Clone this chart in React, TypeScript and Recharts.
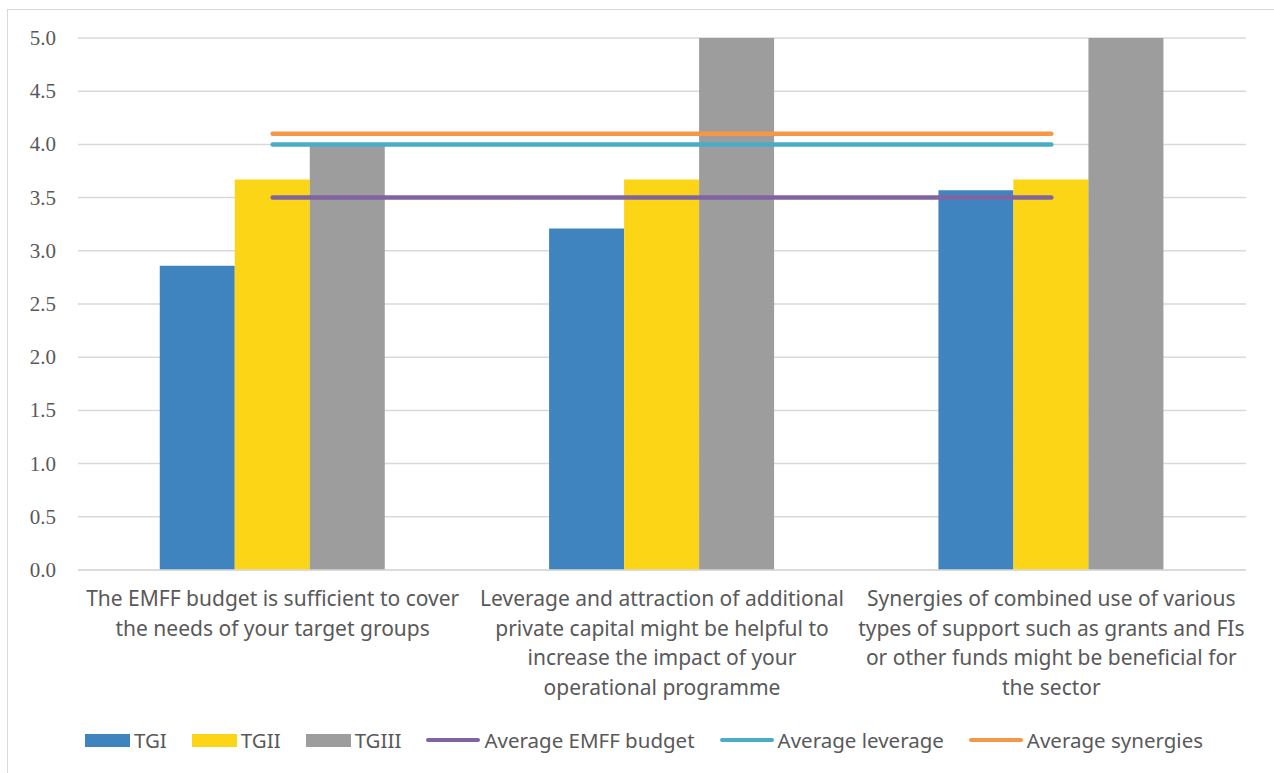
import React from 'react';
import {
  ComposedChart,
  Bar,
  Line,
  XAxis,
  YAxis,
  CartesianGrid,
  Legend,
} from 'recharts';

const categories = [
  'The EMFF budget is sufficient to cover the needs of your target groups',
  'Leverage and attraction of additional private capital might be helpful to increase the impact of your operational programme',
  'Synergies of combined use of various types of support such as grants and FIs or other funds might be beneficial for the sector',
];

// how the category labels wrap in the original
const categoryLines = [
  ['The EMFF budget is sufficient to cover', 'the needs of your target groups'],
  [
    'Leverage and attraction of additional',
    'private capital might be helpful to',
    'increase the impact of your',
    'operational programme',
  ],
  [
    'Synergies of combined use of various',
    'types of support such as grants and FIs',
    'or other funds might be beneficial for',
    'the sector',
  ],
];

const tgi = [2.86, 3.21, 3.57];
const tgii = [3.67, 3.67, 3.67];
const tgiii = [4.0, 5.0, 5.0];
const avgBudget = [3.5, 3.5, 3.5];
const avgLeverage = [4.0, 4.0, 4.0];
const avgSynergies = [4.1, 4.1, 4.1];

const yTicks = [0, 0.5, 1, 1.5, 2, 2.5, 3, 3.5, 4, 4.5, 5];

const data = categories.map((name, i) => ({
  name,
  TGI: tgi[i],
  TGII: tgii[i],
  TGIII: tgiii[i],
  'Average EMFF budget': avgBudget[i],
  'Average leverage': avgLeverage[i],
  'Average synergies': avgSynergies[i],
}));

const TEXT = '#595959';
const GRID = '#d9d9d9';
const SANS = '"Noto Sans", "Open Sans", sans-serif';
const SERIF = '"Liberation Serif", "DejaVu Serif", serif';

const legendItems = [
  { name: 'TGI', color: '#3f83bf', kind: 'bar' },
  { name: 'TGII', color: '#fdd517', kind: 'bar' },
  { name: 'TGIII', color: '#9d9d9e', kind: 'bar' },
  { name: 'Average EMFF budget', color: '#8064a2', kind: 'line' },
  { name: 'Average leverage', color: '#4bacc6', kind: 'line' },
  { name: 'Average synergies', color: '#f79646', kind: 'line' },
];

const CategoryTick = (props: any) => {
  const { x, y, payload } = props;
  const lines = categoryLines[payload.index] || [payload.value];
  return (
    <text
      x={x}
      y={y}
      textAnchor="middle"
      fill={TEXT}
      style={{ fontFamily: SANS, fontSize: 21 }}
    >
      {lines.map((line, i) => (
        <tspan key={i} x={x} dy={i === 0 ? 28 : 29.5}>
          {line}
        </tspan>
      ))}
    </text>
  );
};

const ValueTick = (props: any) => {
  const { x, y, payload } = props;
  return (
    <text
      x={x}
      y={y}
      dy={7}
      textAnchor="end"
      fill={TEXT}
      style={{ fontFamily: SERIF, fontSize: 21 }}
    >
      {Number(payload.value).toFixed(1)}
    </text>
  );
};

const ChartLegend = () => (
  <div
    style={{
      display: 'flex',
      justifyContent: 'center',
      alignItems: 'center',
      height: 40,
      fontFamily: SANS,
      fontSize: 20.5,
      color: TEXT,
      paddingLeft: 14,
    }}
  >
    {legendItems.map((item, i) => (
      <div
        key={item.name}
        style={{
          display: 'flex',
          alignItems: 'center',
          marginRight: i === legendItems.length - 1 ? 0 : 25,
        }}
      >
        {item.kind === 'bar' ? (
          <div style={{ width: 45, height: 13, background: item.color }} />
        ) : (
          <div
            style={{
              width: 54,
              height: 4,
              borderRadius: 2,
              background: item.color,
            }}
          />
        )}
        <span style={{ marginLeft: 4 }}>{item.name}</span>
      </div>
    ))}
  </div>
);

export default function App() {
  return (
    <div
      style={{
        position: 'absolute',
        left: 0,
        top: 0,
        width: 1274,
        height: 773,
        overflow: 'hidden',
        background: '#fff',
      }}
    >
      <div
        style={{
          position: 'absolute',
          left: 7,
          top: 9,
          width: 1300,
          height: 800,
          border: `1px solid ${GRID}`,
        }}
      />
      <div style={{ position: 'absolute', left: 0, top: 0 }}>
        <ComposedChart
          width={1274}
          height={773}
          data={data}
          margin={{ top: 38, right: 28, bottom: 13, left: 28 }}
          barCategoryGap="21%"
          barGap={0}
        >
          <CartesianGrid vertical={false} stroke={GRID} strokeWidth={1.5} />
          <XAxis
            dataKey="name"
            height={150}
            interval={0}
            tickLine={false}
            axisLine={{ stroke: GRID, strokeWidth: 1.5 }}
            tick={<CategoryTick />}
          />
          <YAxis
            width={50}
            domain={[0, 5]}
            ticks={yTicks}
            axisLine={false}
            tickLine={false}
            tickSize={0}
            tickMargin={22}
            tick={<ValueTick />}
          />
          <Bar dataKey="TGI" fill="#3f83bf" isAnimationActive={false} />
          <Bar dataKey="TGII" fill="#fdd517" isAnimationActive={false} />
          <Bar dataKey="TGIII" fill="#9d9d9e" isAnimationActive={false} />
          <Line
            dataKey="Average EMFF budget"
            stroke="#8064a2"
            strokeWidth={4.5}
            strokeLinecap="round"
            dot={false}
            activeDot={false}
            isAnimationActive={false}
          />
          <Line
            dataKey="Average leverage"
            stroke="#4bacc6"
            strokeWidth={4.5}
            strokeLinecap="round"
            dot={false}
            activeDot={false}
            isAnimationActive={false}
          />
          <Line
            dataKey="Average synergies"
            stroke="#f79646"
            strokeWidth={4.5}
            strokeLinecap="round"
            dot={false}
            activeDot={false}
            isAnimationActive={false}
          />
          <Legend verticalAlign="bottom" height={40} content={<ChartLegend />} />
        </ComposedChart>
      </div>
    </div>
  );
}
